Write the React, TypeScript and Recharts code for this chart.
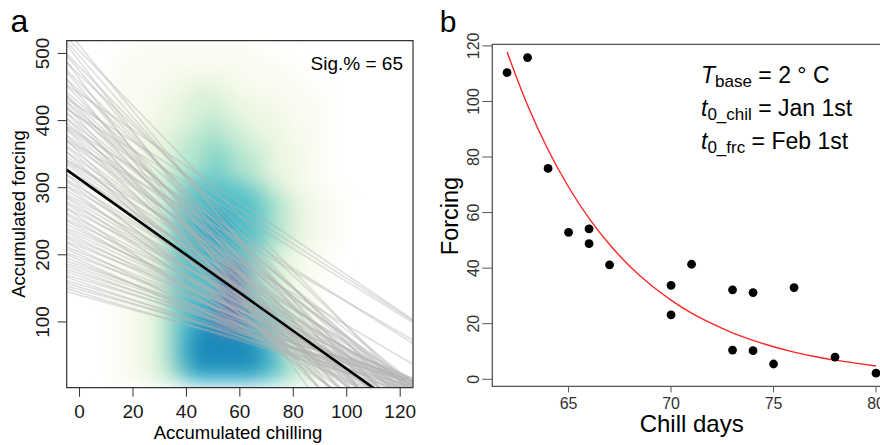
import React from "react";
import {
  ComposedChart,
  Scatter,
  Line,
  XAxis,
  YAxis,
  ReferenceLine,
  ReferenceArea,
} from "recharts";

const FONT = '"Liberation Sans", Arial, Helvetica, sans-serif';

// ---------- panel a: accumulated chilling vs forcing ----------
const chillTicks = [0, 20, 40, 60, 80, 100, 120];
const forcingTicks = [100, 200, 300, 400, 500];
const chillDomain: [number, number] = [-4.8, 124.8];
const forcingDomain: [number, number] = [2, 519];

// density grid: columns every 5 chill units, rows every 20 forcing units
const densityCols = [0, 5, 10, 15, 20, 25, 30, 35, 40, 45, 50, 55, 60, 65, 70, 75, 80, 85, 90, 95, 100, 105, 110, 115, 120];
const densityRows = [
  { y: 500, levels: "0000111111111100000000000" },
  { y: 480, levels: "0001111111111111000000000" },
  { y: 460, levels: "0001111122221111100000000" },
  { y: 440, levels: "0001111223322111110000000" },
  { y: 420, levels: "0011112233332221111000000" },
  { y: 400, levels: "0011112233433222111000000" },
  { y: 380, levels: "0011122334443322111000000" },
  { y: 360, levels: "0011122344544332211000000" },
  { y: 340, levels: "0011122344554432211000000" },
  { y: 320, levels: "0011123445554432211000000" },
  { y: 300, levels: "0011123456666543211000000" },
  { y: 280, levels: "0011123466666654321100000" },
  { y: 260, levels: "0011123566776654321100000" },
  { y: 240, levels: "0011123567776654321100000" },
  { y: 220, levels: "0011123567776654321100000" },
  { y: 200, levels: "0011123566766543211000000" },
  { y: 180, levels: "0011123566699543211000000" },
  { y: 160, levels: "0011123566699543211000000" },
  { y: 140, levels: "0001123566699543210000000" },
  { y: 120, levels: "0001123567799654321000000" },
  { y: 100, levels: "0001123567899765321000000" },
  { y: 80, levels: "0001123578888765321000000" },
  { y: 60, levels: "0001123578888875321000000" },
  { y: 40, levels: "0001123578888876432100000" },
  { y: 20, levels: "0001123467777765432100000" },
];
const densityColors = [
  "none",
  "#f9fbf1",
  "#eff7e2",
  "#d9f1d9",
  "#b3e5cf",
  "#80d3c9",
  "#52c2c9",
  "#34aac8",
  "#1a8aba",
  "#6a7ab5",
];

// bootstrap fits: [intercept, slope]
const bootLines: [number, number][] = [
  [140, -1.09], [144, -1.2], [148, -1.09], [152, -1.23], [156, -1.18], [160, -1.36], [164, -1.19], [168, -1.33],
  [172, -1.28], [176, -1.44], [180, -1.38], [184, -1.38], [188, -1.57], [192, -1.78], [196, -1.48], [200, -1.75],
  [204, -1.62], [208, -1.98], [212, -1.57], [216, -1.85], [220, -1.71], [224, -2.02], [228, -1.85], [232, -1.74],
  [236, -1.97], [240, -2.22], [244, -1.92], [248, -2.36], [252, -2.1], [256, -2.69], [260, -2.0], [264, -2.42],
  [268, -2.18], [272, -2.67], [276, -2.38], [280, -2.19], [284, -2.54], [288, -2.94], [292, -2.32], [296, -2.82],
  [300, -2.5], [304, -3.2], [308, -2.37], [312, -2.86], [316, -2.57], [320, -3.14], [324, -2.87], [328, -2.6],
  [332, -3.05], [336, -3.57], [340, -2.74], [344, -3.41], [348, -2.97], [352, -3.91], [356, -2.78], [360, -3.43],
  [364, -3.03], [368, -3.76], [372, -3.29], [376, -2.98], [380, -3.49], [384, -4.09], [388, -3.13], [392, -3.88],
  [396, -3.38], [400, -4.44], [404, -3.16], [408, -3.89], [412, -3.43], [416, -4.24], [420, -3.72], [426, -3.46],
  [432, -4.11], [438, -4.87], [444, -3.67], [450, -4.64], [456, -4.04], [462, -5.37], [468, -3.74], [474, -4.65],
  [480, -4.1], [488, -5.19], [496, -4.55], [504, -4.1], [512, -4.88],
  [405, -2.45], [420, -2.55], [440, -2.7], [380, -2.5], [330, -2.35], [360, -2.3],
];
const fitLine: [number, number] = [313, -2.83];

// ---------- panel b: chill days vs forcing ----------
const chillDays = [62, 63, 64, 65, 66, 66, 67, 70, 70, 71, 73, 73, 74, 74, 75, 76, 78, 80];
const forcingObs = [110.4, 115.8, 75.9, 52.9, 54.1, 48.8, 41.2, 33.8, 23.2, 41.4, 32.2, 10.5, 31.2, 10.3, 5.5, 33.0, 8.0, 2.2];
const curveDays = [62, 63, 64, 65, 66, 67, 68, 69, 70, 71, 72, 73, 74, 75, 76, 77, 78, 79, 80];
const curveForcing = [117.8, 98.6, 82.6, 69.2, 57.9, 48.5, 40.6, 34.0, 28.5, 23.8, 20.0, 16.7, 14.0, 11.7, 9.8, 8.2, 6.9, 5.8, 4.8];
const dayTicks = [65, 70, 75, 80];
const forcingBTicks = [0, 20, 40, 60, 80, 100, 120];
const dayDomain: [number, number] = [61.28, 80.72];
const forcingBDomain: [number, number] = [-2.56, 120.56];

const densityData = densityRows.flatMap((row) =>
  densityCols
    .map((x, i) => ({ x, y: row.y, level: Number(row.levels[i]) }))
    .filter((d) => d.level > 0)
);
const obsData = chillDays.map((x, i) => ({ x, y: forcingObs[i] }));
const curveData = curveDays.map((x, i) => ({ x, y: curveForcing[i] }));

// plot geometry of panel a (used for the density cell size)
const A_W = 440;
const A_H = 445;
const A_MARGIN = { top: 40.7, right: 27, bottom: 17.3, left: 16.7 };
const A_PLOT_W = A_W - A_MARGIN.left - 50 - A_MARGIN.right;
const A_PLOT_H = A_H - A_MARGIN.top - 40 - A_MARGIN.bottom;
const cellW = (5 / (chillDomain[1] - chillDomain[0])) * A_PLOT_W + 1;
const cellH = (20 / (forcingDomain[1] - forcingDomain[0])) * A_PLOT_H + 1;

function RotTick(props: any) {
  const { x, y, payload, fontSize, fill, shift } = props;
  const cx = x - shift;
  return (
    <text
      x={cx}
      y={y}
      transform={`rotate(-90 ${cx} ${y})`}
      textAnchor="middle"
      dy="0.35em"
      fontSize={fontSize}
      fill={fill}
    >
      {payload.value}
    </text>
  );
}

function PanelA() {
  return (
    <ComposedChart width={A_W} height={A_H} margin={A_MARGIN}>
      <XAxis
        type="number"
        dataKey="x"
        domain={chillDomain}
        allowDataOverflow
        ticks={chillTicks}
        interval={0}
        height={40}
        axisLine={false}
        tickSize={9}
        tickMargin={8}
        tickLine={{ stroke: "#333" }}
        tick={{ fontSize: 19, fill: "#1a1a1a" }}
      />
      <YAxis
        type="number"
        dataKey="y"
        domain={forcingDomain}
        allowDataOverflow
        ticks={forcingTicks}
        interval={0}
        width={50}
        axisLine={false}
        tickSize={9}
        tickMargin={8}
        tickLine={{ stroke: "#333" }}
        tick={(p: any) => <RotTick {...p} fontSize={19} fill="#1a1a1a" shift={7} />}
      />
      <Scatter
        data={densityData}
        isAnimationActive={false}
        zIndex={50}
        shape={(p: any) => (
          <rect
            x={p.cx - cellW / 2}
            y={p.cy - cellH / 2}
            width={cellW}
            height={cellH}
            fill={densityColors[p.payload.level]}
          />
        )}
      />
      {bootLines.map(([a, s], i) => (
        <ReferenceLine
          key={i}
          segment={[
            { x: chillDomain[0], y: a + s * chillDomain[0] },
            { x: chillDomain[1], y: a + s * chillDomain[1] },
          ]}
          stroke="#b2b2b2"
          strokeOpacity={0.38}
          strokeWidth={1.8}
          ifOverflow="hidden"
          zIndex={800}
        />
      ))}
      <ReferenceLine
        segment={[
          { x: chillDomain[0], y: fitLine[0] + fitLine[1] * chillDomain[0] },
          { x: chillDomain[1], y: fitLine[0] + fitLine[1] * chillDomain[1] },
        ]}
        stroke="#000"
        strokeWidth={2.6}
        ifOverflow="hidden"
        zIndex={850}
      />
      <ReferenceArea
        x1={chillDomain[0]}
        x2={chillDomain[1]}
        y1={forcingDomain[0]}
        y2={forcingDomain[1]}
        fill="none"
        stroke="#333"
        strokeWidth={1.2}
        fillOpacity={0}
        ifOverflow="visible"
        zIndex={900}
      />
    </ComposedChart>
  );
}

function PanelB() {
  return (
    <ComposedChart
      width={470}
      height={445}
      margin={{ top: 44.3, right: 19.2, bottom: 18.6, left: 12.3 }}
    >
      <XAxis
        type="number"
        dataKey="x"
        domain={dayDomain}
        allowDataOverflow
        ticks={dayTicks}
        interval={0}
        height={40}
        axisLine={false}
        tickSize={6}
        tickMargin={5}
        tickLine={{ stroke: "#555" }}
        tick={{ fontSize: 16, fill: "#333" }}
      />
      <YAxis
        type="number"
        dataKey="y"
        domain={forcingBDomain}
        allowDataOverflow
        ticks={forcingBTicks}
        interval={0}
        width={40}
        axisLine={false}
        tickSize={10}
        tickMargin={3}
        tickLine={{ stroke: "#555" }}
        tick={(p: any) => <RotTick {...p} fontSize={16} fill="#333" shift={6} />}
      />
      <Line
        data={curveData}
        dataKey="y"
        type="monotone"
        stroke="#ff2626"
        strokeWidth={1.4}
        dot={false}
        isAnimationActive={false}
      />
      <Scatter
        data={obsData}
        isAnimationActive={false}
        shape={(p: any) => <circle cx={p.cx} cy={p.cy} r={4.4} fill="#000" />}
      />
      <ReferenceArea
        x1={dayDomain[0]}
        x2={dayDomain[1]}
        y1={forcingBDomain[0]}
        y2={forcingBDomain[1]}
        fill="none"
        fillOpacity={0}
        stroke="#555"
        strokeWidth={1.3}
        ifOverflow="visible"
        zIndex={900}
      />
    </ComposedChart>
  );
}

export default function App() {
  return (
    <div
      style={{
        position: "fixed",
        left: 0,
        top: 0,
        width: 880,
        height: 445,
        overflow: "hidden",
        background: "#fff",
        fontFamily: FONT,
      }}
    >
      <style>{`.chart-a .recharts-scatter { filter: url(#densBlur); }`}</style>
      <svg width={0} height={0} style={{ position: "absolute" }}>
        <defs>
          <filter id="densBlur" x="-15%" y="-15%" width="130%" height="130%">
            <feGaussianBlur stdDeviation={9} />
          </filter>
        </defs>
      </svg>
      <div className="chart-a" style={{ position: "absolute", left: 0, top: 0 }}>
        <PanelA />
      </div>
      <div style={{ position: "absolute", left: 440, top: 0 }}>
        <PanelB />
      </div>
      <svg
        width={880}
        height={445}
        style={{ position: "absolute", left: 0, top: 0, pointerEvents: "none" }}
        fontFamily={FONT}
      >
        <text x={10.5} y={31.5} fontSize={32} fill="#000">a</text>
        <text x={403} y={70} fontSize={19} textAnchor="end" fill="#000">Sig.% = 65</text>
        <text x={238} y={439} fontSize={18.5} textAnchor="middle" fill="#000">
          Accumulated chilling
        </text>
        <text x={25} y={214} fontSize={18.5} textAnchor="middle" transform="rotate(-90 25 214)" fill="#000">
          Accumulated forcing
        </text>

        <text x={439.7} y={31.5} fontSize={30} fill="#000">b</text>
        <text x={691.7} y={431.5} fontSize={24} textAnchor="middle" fill="#000">Chill days</text>
        <text x={458} y={216} fontSize={23.5} textAnchor="middle" transform="rotate(-90 458 216)" fill="#000">
          Forcing
        </text>
        <text x={701} y={83} fontSize={23} fill="#000">
          <tspan fontStyle="italic">T</tspan>
          <tspan fontSize={17} dy={4}>base</tspan>
          <tspan dy={-4}> = 2 ° C</tspan>
        </text>
        <text x={701} y={116} fontSize={23} fill="#000">
          <tspan fontStyle="italic">t</tspan>
          <tspan fontSize={17} dy={4}>0_chil</tspan>
          <tspan dy={-4}> = Jan 1st</tspan>
        </text>
        <text x={701} y={149} fontSize={23} fill="#000">
          <tspan fontStyle="italic">t</tspan>
          <tspan fontSize={17} dy={4}>0_frc</tspan>
          <tspan dy={-4}> = Feb 1st</tspan>
        </text>
      </svg>
    </div>
  );
}
